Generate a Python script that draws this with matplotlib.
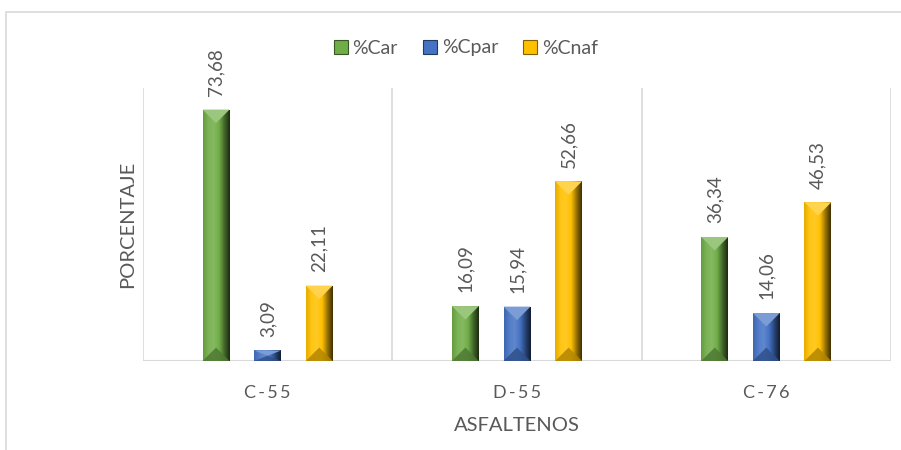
import numpy as np
import matplotlib
matplotlib.use("Agg")
import matplotlib.pyplot as plt
from matplotlib.patches import Rectangle, Polygon
from matplotlib.colors import LinearSegmentedColormap, to_rgb

categories = ["C\u2009-\u20095\u20095", "D\u2009-\u20095\u20095", "C\u2009-\u20097\u20096"]
series_names = ["%Car", "%Cpar", "%Cnaf"]
car = [73.68, 16.09, 36.34]
cpar = [3.09, 15.94, 14.06]
cnaf = [22.11, 52.66, 46.53]
series_values = [car, cpar, cnaf]

base_colors = ["#70AD47", "#4472C4", "#FFC000"]
text_grey = "#595959"
grid_grey = "#D9D9D9"

plt.rcParams["font.family"] = ["Lato", "DejaVu Sans"]

W, H, DPI = 901, 450, 100
fig = plt.figure(figsize=(W / DPI, H / DPI), dpi=DPI)

# outer chart frame
fig.patches.append(Rectangle((6 / W, -0.2), 1.2, (H - 12) / H + 0.2,
                             transform=fig.transFigure, fill=False,
                             edgecolor=grid_grey, linewidth=1.2))

ax = fig.add_axes([143 / W, (H - 361) / H, (891 - 143) / W, (361 - 88) / H])
ax.set_xlim(-0.5, 2.5)
ax.set_ylim(0, 80)
for s in ax.spines.values():
    s.set_visible(False)
ax.set_yticks([])
ax.set_xticks(range(len(categories)))
ax.set_xticklabels(categories, fontsize=13, color=text_grey)
ax.tick_params(axis="x", length=0, pad=17)
ax.axhline(0, color=grid_grey, linewidth=1.5, zorder=1)
for xv in [-0.5, 0.5, 1.5, 2.5]:
    ax.axvline(xv, color=grid_grey, linewidth=1.2, zorder=0)

ax.set_ylabel("PORCENTAJE", fontsize=14.5, color=text_grey, labelpad=5)
ax.set_xlabel("ASFALTENOS", fontsize=14.5, color=text_grey, labelpad=12)


def shade(c, f):
    r = np.array(to_rgb(c))
    if f >= 0:
        return tuple(r + (1 - r) * f)
    return tuple(r * (1 + f))


bar_w = 0.108
offset = 0.207
px_per_x = (891 - 143) / 3.0
px_per_y = (361 - 88) / 80.0

for si, (vals, col) in enumerate(zip(series_values, base_colors)):
    cmap = LinearSegmentedColormap.from_list(
        "g", [shade(col, -0.1), shade(col, 0.08), shade(col, 0.15),
              shade(col, 0.0), shade(col, -0.4), shade(col, -0.75)])
    grad = np.linspace(0, 1, 64).reshape(1, -1)
    for ci, v in enumerate(vals):
        x0 = ci + (si - 1) * offset - bar_w / 2
        x1 = x0 + bar_w
        xc = (x0 + x1) / 2
        bars = ax.bar(xc, v, width=bar_w, color=col, zorder=2)
        im = ax.imshow(grad, extent=[x0, x1, 0, v], aspect="auto",
                       cmap=cmap, zorder=3, interpolation="bilinear")
        im.set_clip_path(bars[0])
        # bevel triangles at top and bottom
        half_px = bar_w * px_per_x / 2
        dy = min(half_px / px_per_y, v / 2)
        ax.add_patch(Polygon([[x0, v], [x1, v], [xc, v - dy]], closed=True,
                             facecolor=shade(col, 0.3), edgecolor="none",
                             zorder=4))
        ax.add_patch(Polygon([[x0, 0], [x1, 0], [xc, dy]], closed=True,
                             facecolor=shade(col, -0.3), edgecolor="none",
                             zorder=4, alpha=0.85))
        ax.text(xc, v + 4.0, f"{v:.2f}".replace(".", ","), rotation=90,
                ha="center", va="bottom", fontsize=13.5, color=text_grey)

# legend
handles = [Rectangle((0, 0), 1, 1, facecolor=c, edgecolor=shade(c, -0.5),
                     linewidth=0.8) for c in base_colors]
fig.legend(handles, series_names, loc="center", bbox_to_anchor=(466 / W, 1 - 48 / H),
           ncol=3, frameon=False, fontsize=14, labelcolor=text_grey,
           handlelength=0.7, handleheight=0.7, handletextpad=0.25,
           columnspacing=1.3)

fig.savefig("out.png", dpi=DPI)
